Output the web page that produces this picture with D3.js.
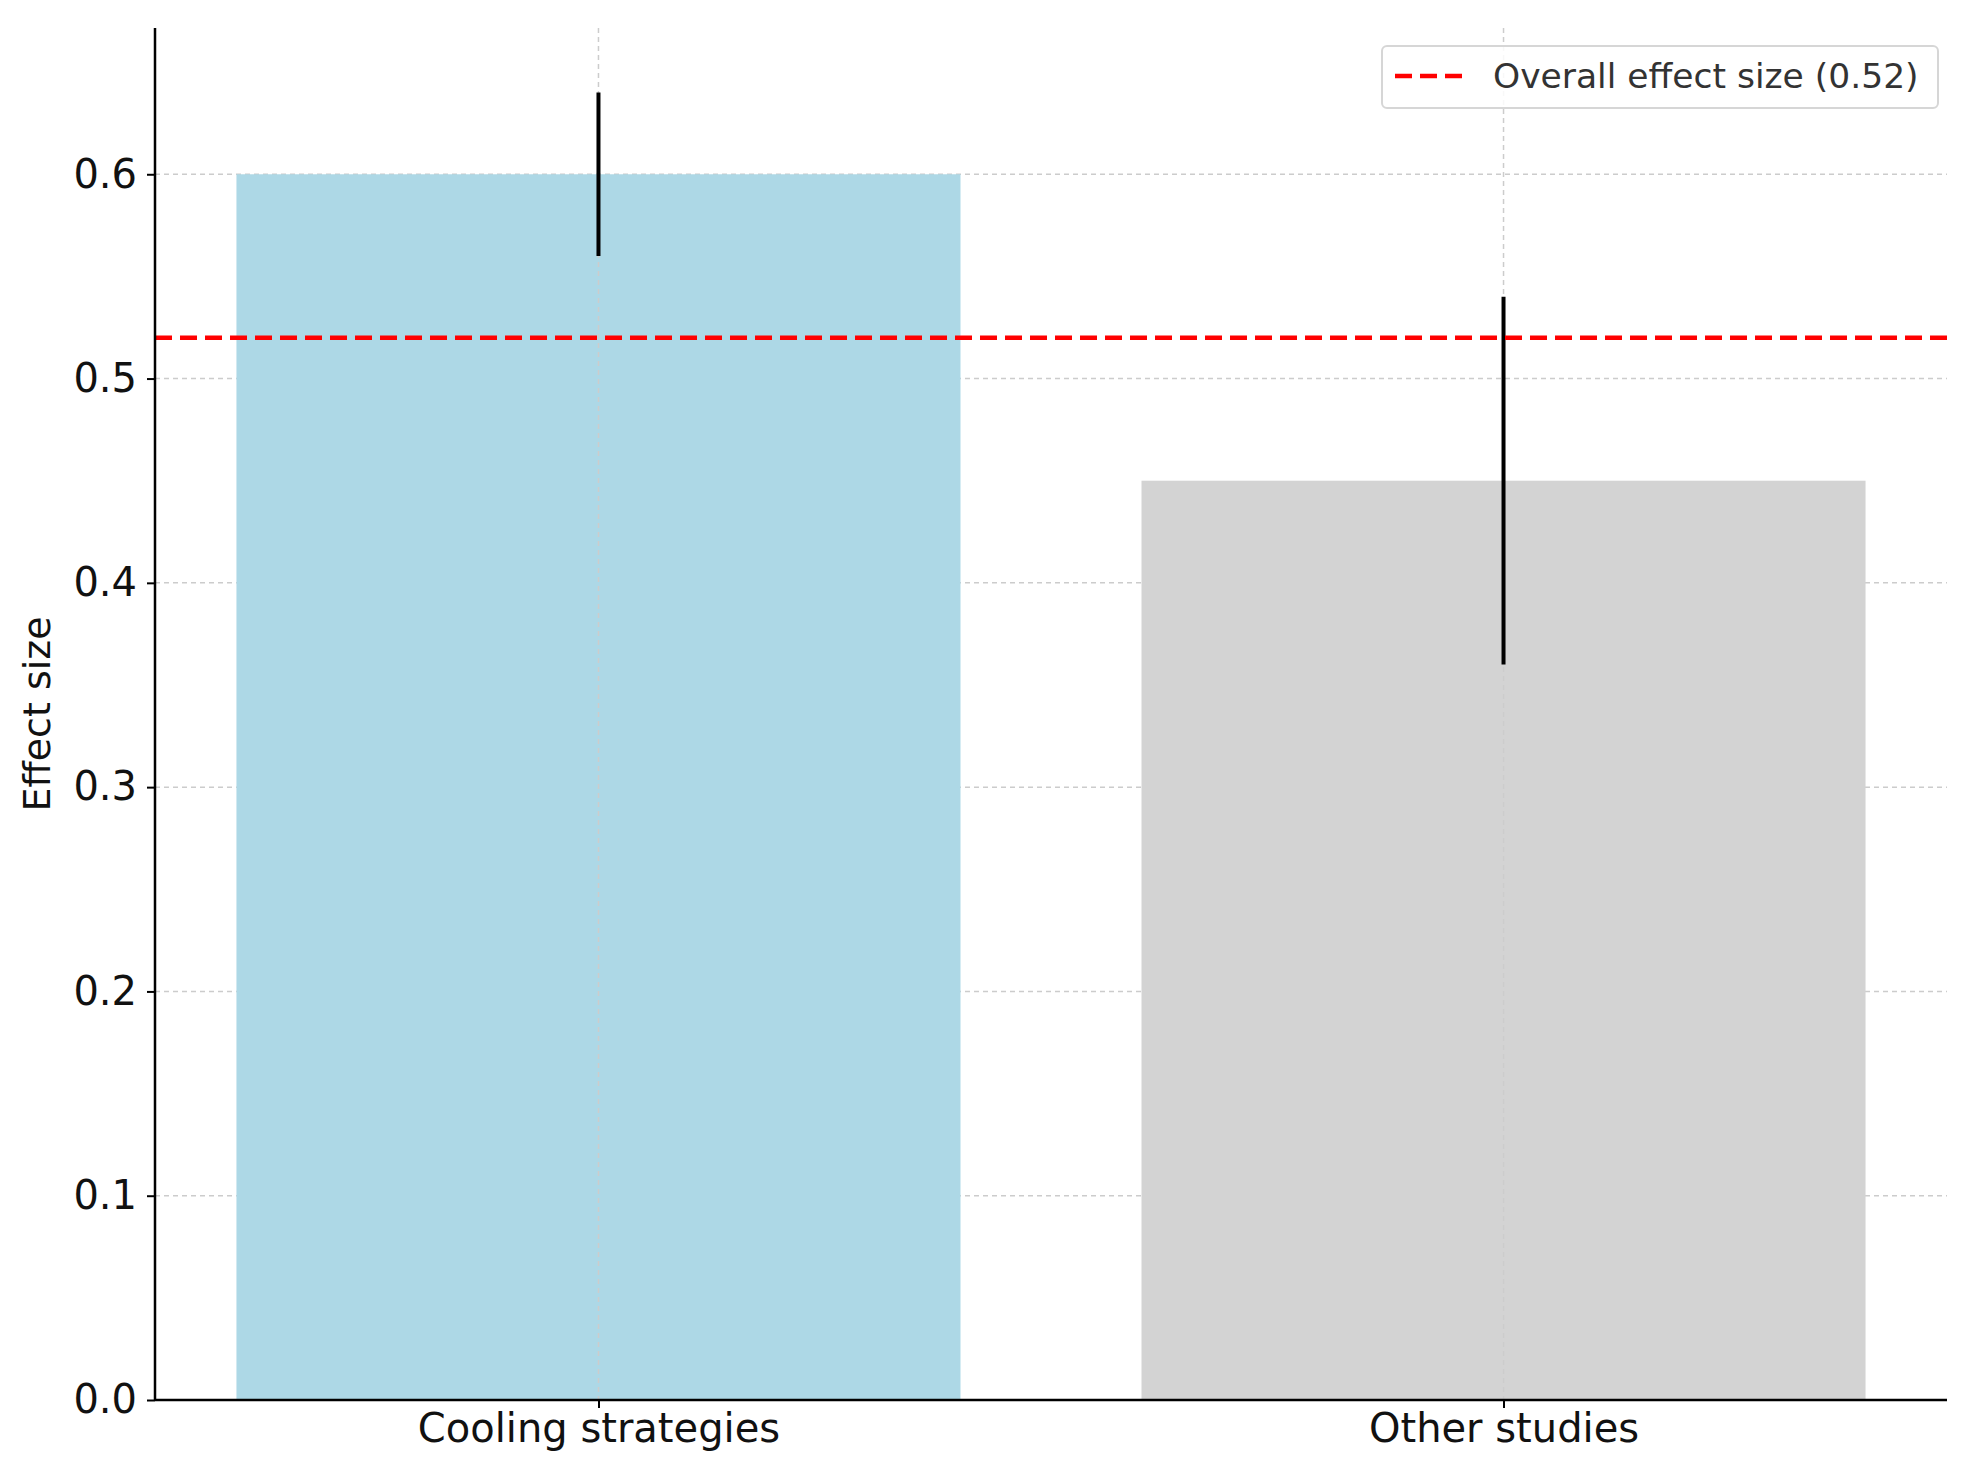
<!DOCTYPE html>
<html>
<head>
<meta charset="utf-8">
<script src="https://cdn.jsdelivr.net/npm/d3@7"></script>
<style>
body { margin: 0; background: #fff; }
text { font-family: "DejaVu Sans", sans-serif; }
</style>
</head>
<body>
<svg id="chart" width="1968" height="1469"></svg>
<script>
// data
var categories = ["Cooling strategies", "Other studies"];
var effectSizes = [0.60, 0.45];
var errLow = [0.56, 0.36];
var errHigh = [0.64, 0.54];
var overallEffect = 0.52;
var yTicks = [0.0, 0.1, 0.2, 0.3, 0.4, 0.5, 0.6];

var svg = d3.select("#chart");
var mLeft = 155, mRight = 1947, mTop = 28, mBottom = 1400;

var x = d3.scaleLinear().domain([-0.49, 1.49]).range([mLeft, mRight]);
var y = d3.scaleLinear().domain([0, 0.6716]).range([mBottom, mTop]);

// grid
svg.selectAll("line.hgrid").data(yTicks).enter().append("line")
	.attr("x1", mLeft).attr("x2", mRight)
	.attr("y1", function(d) { return y(d); }).attr("y2", function(d) { return y(d); })
	.attr("stroke", "#ccc").attr("stroke-width", 1.5).attr("stroke-dasharray", "5,4");

// bars
svg.selectAll("rect.bar").data(effectSizes).enter().append("rect")
	.attr("x", function(d, i) { return x(i - 0.4); })
	.attr("width", function(d, i) { return x(i + 0.4) - x(i - 0.4); })
	.attr("y", function(d) { return y(d); })
	.attr("height", function(d) { return mBottom - y(d); })
	.attr("fill", function(d, i) { return i == 0 ? "#add8e6" : "#d3d3d3"; });

// vertical grid
svg.selectAll("line.vgrid").data(categories).enter().append("line")
	.attr("x1", function(d, i) { return x(i); }).attr("x2", function(d, i) { return x(i); })
	.attr("y1", mTop).attr("y2", mBottom)
	.attr("stroke", "#ccc").attr("stroke-width", 1.5).attr("stroke-dasharray", "5,4");

// error bars
svg.selectAll("line.err").data(categories).enter().append("line")
	.attr("x1", function(d, i) { return x(i); }).attr("x2", function(d, i) { return x(i); })
	.attr("y1", function(d, i) { return y(errLow[i]); })
	.attr("y2", function(d, i) { return y(errHigh[i]); })
	.attr("stroke", "#000").attr("stroke-width", 4);

// overall line
svg.append("line")
	.attr("x1", mLeft).attr("x2", mRight)
	.attr("y1", y(overallEffect)).attr("y2", y(overallEffect))
	.attr("stroke", "red").attr("stroke-width", 4.5).attr("stroke-dasharray", "17,8");

// axes
var yAxis = svg.append("g").attr("transform", "translate(" + mLeft + ",0)")
	.call(d3.axisLeft(y).tickValues(yTicks).tickFormat(d3.format(".1f")).tickSize(8).tickPadding(10));
yAxis.select(".domain").attr("stroke-width", 2.5).attr("d", "M0," + mTop + "V" + mBottom);
yAxis.selectAll("text").style("font-size", "40px").attr("fill", "#111");

var xAxis = svg.append("g").attr("transform", "translate(0," + mBottom + ")")
	.call(d3.axisBottom(x).tickValues([0, 1]).tickFormat(function(d) { return categories[d]; }).tickSize(8).tickPadding(6));
xAxis.select(".domain").attr("stroke-width", 2.5).attr("d", "M" + mLeft + ",0H" + mRight);
xAxis.selectAll("text").style("font-size", "40px").attr("fill", "#111");
xAxis.selectAll(".tick line").attr("stroke-width", 2);
yAxis.selectAll(".tick line").attr("stroke-width", 2);

svg.append("text")
	.attr("transform", "translate(50," + ((mTop + mBottom) / 2) + ") rotate(-90)")
	.attr("text-anchor", "middle").style("font-size", "38px").attr("fill", "#111")
	.text("Effect size");

// legend
var lg = svg.append("g");
lg.append("rect").attr("x", 1382).attr("y", 46).attr("width", 556).attr("height", 62)
	.attr("rx", 5).attr("fill", "#fff").attr("fill-opacity", 0.85).attr("stroke", "#d6d6d6").attr("stroke-width", 2);
lg.append("line").attr("x1", 1395).attr("x2", 1465).attr("y1", 76).attr("y2", 76)
	.attr("stroke", "red").attr("stroke-width", 4.5).attr("stroke-dasharray", "17,8");
lg.append("text").attr("x", 1493).attr("y", 88).style("font-size", "34.5px").attr("fill", "#333")
	.text("Overall effect size (" + overallEffect + ")");
</script>
</body>
</html>
